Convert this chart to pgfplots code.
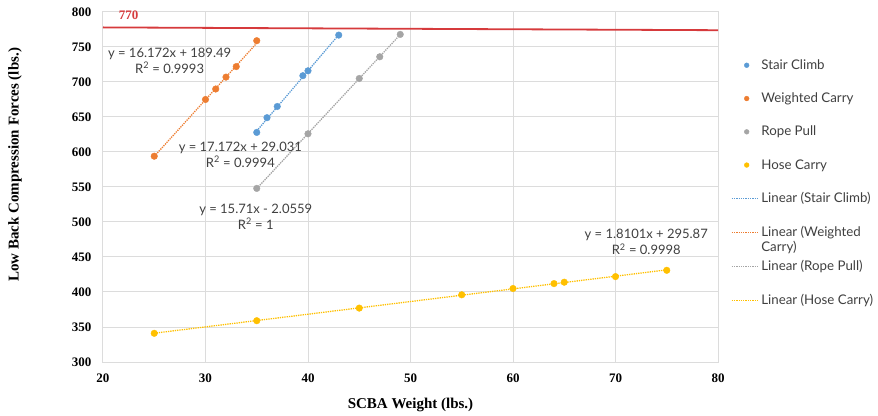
\documentclass[border=0pt]{standalone}
\usepackage{fontspec}
\setmainfont{Liberation Serif}
\newfontfamily\gill{Lato}
\usepackage{pgfplots}
\pgfplotsset{compat=1.18}
\definecolor{stair}{HTML}{5B9BD5}
\definecolor{weight}{HTML}{ED7D31}
\definecolor{rope}{HTML}{A5A5A5}
\definecolor{hose}{HTML}{FFC000}
\definecolor{limit}{HTML}{D63A3C}
\definecolor{gridgray}{HTML}{DCDCDC}
\definecolor{eqtext}{HTML}{404040}

\pgfplotsset{
  pts/.style={only marks, mark=*, mark size=3.3pt, mark options={fill=#1, draw=#1}, color=#1,
    legend image code/.code={\draw[mark repeat=2,mark phase=2,##1,mark size=2.4pt] plot coordinates {(0pt,0pt)(15pt,0pt)(30pt,0pt)};}},
  trend/.style={#1, densely dotted, line width=1.3pt, no marks,
    legend image code/.code={\draw[##1] (0pt,0pt) -- (27pt,0pt);}},
}

\begin{document}
\begin{tikzpicture}
\path[use as bounding box] (-103pt,-53pt) rectangle (775pt,362pt);
\begin{axis}[at={(0pt,0pt)}, anchor=south west,
  scale only axis, width=615pt, height=350pt,
  xmin=20, xmax=80, ymin=300, ymax=800,
  xtick={20,30,...,80}, ytick={300,350,...,800},
  grid=major, grid style={gridgray, line width=1pt},
  axis line style={gridgray, line width=1pt},
  tick style={draw=none},
  /pgf/number format/assume math mode=true,
  ticklabel style={font=\fontsize{13}{15}\selectfont\bfseries},
  yticklabel style={xshift=-8pt},
  xticklabel style={yshift=-8pt},
  xlabel={SCBA Weight (lbs.)},
  ylabel={Low Back Compression Forces (lbs.)},
  label style={font=\fontsize{15}{17}\selectfont\bfseries},
  xlabel style={at={(axis description cs:0.5,-0.123)}, anchor=center},
  ylabel style={at={(axis description cs:-0.143,0.563)}, anchor=center, rotate=0},
  clip=false,
  legend cell align=left,
  legend style={at={(1.016,0.876)}, anchor=north west, draw=none, fill=none,
    font=\gill\fontsize{13.3}{15}\selectfont, text=eqtext,
    row sep=18pt, cells={align=left}},
]
% limit line
\addplot[limit, line width=1.8pt, forget plot] coordinates {(20,778) (80,774)};
\node[anchor=west, text=limit, font=\fontsize{13}{15}\selectfont\bfseries] at (axis cs:21.2,795.5) {770};

\addplot[pts=stair] coordinates {(35,628) (36,649) (37,665) (39.5,709) (40,716) (43,767)};
\addlegendentry{Stair Climb}
\addplot[pts=weight] coordinates {(25,594) (30,675) (31,690) (32,707) (33,722) (35,759)};
\addlegendentry{Weighted Carry}
\addplot[pts=rope] coordinates {(35,548) (40,626) (45,705) (47,736) (49,768)};
\addlegendentry{Rope Pull}
\addplot[pts=hose] coordinates {(25,341) (35,359) (45,377) (55,396) (60,405) (64,412) (65,414) (70,422) (75,431)};
\addlegendentry{Hose Carry}

\addplot[trend=stair] coordinates {(35,630.05) (43,767.43)};
\addlegendentry{Linear (Stair Climb)}
\addplot[trend=weight] coordinates {(25,593.79) (35,755.51)};
\addlegendentry{\raisebox{0pt}[\height][0pt]{\begin{tabular}[t]{@{}l@{}}Linear (Weighted\\Carry)\end{tabular}}}
\addplot[trend=rope] coordinates {(35,547.79) (49,767.73)};
\addlegendentry{Linear (Rope Pull)}
\addplot[trend=hose] coordinates {(25,341.12) (75,431.63)};
\addlegendentry{Linear (Hose Carry)}

% trendline equations
\begin{scope}[every node/.style={font=\gill\fontsize{13}{16}\selectfont, text=eqtext, align=center}]
\node at (axis cs:26.5,730.5) {y = 16.172x + 189.49\\R\textsuperscript{2} = 0.9993};
\node at (axis cs:33.4,596.5) {y = 17.172x + 29.031\\R\textsuperscript{2} = 0.9994};
\node at (axis cs:34.9,508) {y = 15.71x - 2.0559\\R\textsuperscript{2} = 1};
\node at (axis cs:73,471.5) {y = 1.8101x + 295.87\\R\textsuperscript{2} = 0.9998};
\end{scope}
\end{axis}
\end{tikzpicture}
\end{document}
